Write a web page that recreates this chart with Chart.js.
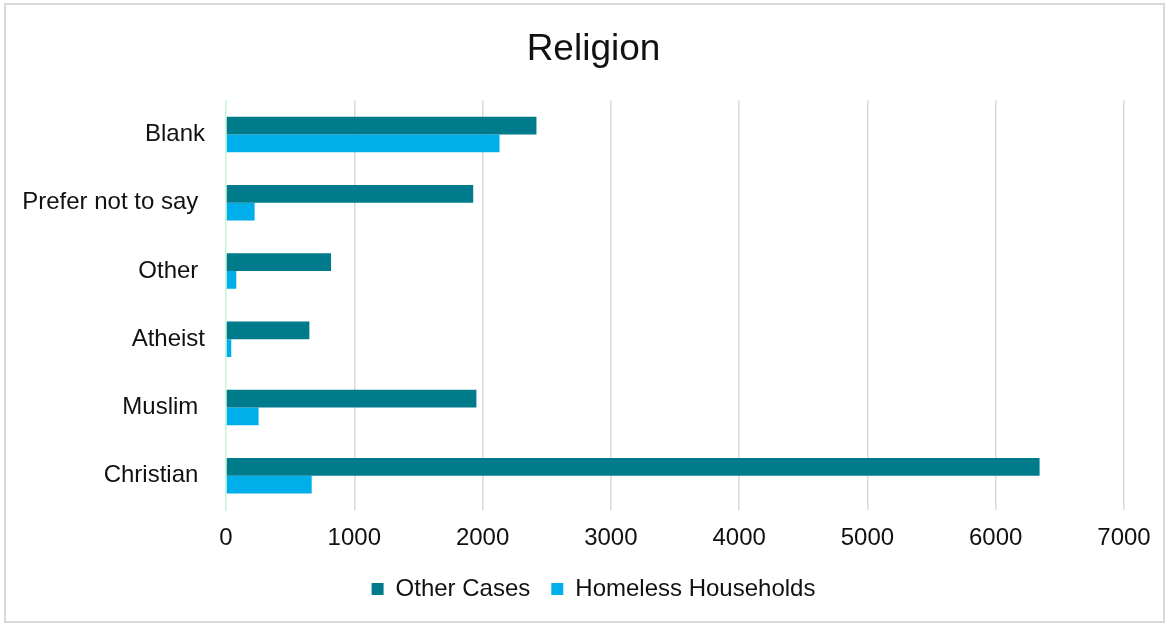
<!DOCTYPE html>
<html>
<head>
<meta charset="utf-8">
<title>Religion</title>
<script src="https://cdn.jsdelivr.net/npm/chart.js@4/dist/chart.umd.min.js"></script>
<style>
    html, body { margin: 0; padding: 0; background: #fff; }
    #wrap { position: relative; width: 1169px; height: 627px; }
    #frame {
        position: absolute; left: 4px; top: 3px; width: 1157px; height: 616px;
        border: 2px solid #d9d9d9; pointer-events: none;
    }
    #religionChart { position: absolute; left: 0; top: 0; }
</style>
</head>
<body>
<div id="wrap">
    <canvas id="religionChart" width="1169" height="627"></canvas>
    <div id="frame"></div>
</div>
<script>
// --- Data ---
const categories = ['Blank', 'Prefer not to say ', 'Other ', 'Atheist', 'Muslim ', 'Christian '];
const otherCases = [2420, 1927, 819, 650, 1952, 6342];
const homelessHouseholds = [2132, 223, 80, 41, 254, 668];
const xTicks = [0, 1000, 2000, 3000, 4000, 5000, 6000, 7000];

const FONT = "'Liberation Sans', Arial, sans-serif";
const TEXT_COLOR = '#111';

// --- Chart ---
const ctx = document.getElementById('religionChart').getContext('2d');
const religionChart = new Chart(ctx, {
    type: 'bar',
    data: {
        labels: categories,
        datasets: [
            { label: 'Other Cases', data: otherCases, backgroundColor: '#007b8c', borderWidth: 0 },
            { label: 'Homeless Households', data: homelessHouseholds, backgroundColor: '#00aeea', borderWidth: 0 }
        ]
    },
    options: {
        indexAxis: 'y',
        responsive: false,
        animation: false,
        categoryPercentage: 0.52,
        barPercentage: 1,
        layout: { padding: { left: 18, right: 0, top: 0, bottom: 16 } },
        scales: {
            x: {
                min: xTicks[0],
                max: xTicks[xTicks.length - 1],
                afterBuildTicks: scale => { scale.ticks = xTicks.map(v => ({ value: v })); },
                afterFit: scale => { scale.height = 46; },
                grid: {
                    color: c => (c.index === 0 ? 'rgba(0,0,0,0)' : '#d9d9d9'),
                    lineWidth: 1.5,
                    drawTicks: false
                },
                border: { display: false },
                ticks: {
                    color: TEXT_COLOR,
                    font: { family: FONT, size: 24 },
                    padding: 14,
                    callback: value => String(value)
                }
            },
            y: {
                afterFit: scale => { scale.width = 208; },
                grid: { display: false, drawTicks: false },
                border: { display: true, color: '#c8f5d6', width: 1.5 },
                ticks: { color: TEXT_COLOR, font: { family: FONT, size: 24 }, padding: 21 }
            },
            // empty right axis: reserves space so title/legend stay centred like the original
            yRight: {
                type: 'category',
                position: 'right',
                afterFit: scale => { scale.width = 45; },
                grid: { display: false, drawTicks: false },
                border: { display: false },
                ticks: { display: false }
            }
        },
        plugins: {
            title: {
                display: true,
                text: 'Religion',
                color: TEXT_COLOR,
                font: { family: FONT, size: 37, weight: 'normal' },
                padding: { top: 28, bottom: 28 }
            },
            legend: {
                position: 'bottom',
                labels: {
                    color: TEXT_COLOR,
                    font: { family: FONT, size: 24 },
                    boxWidth: 12,
                    boxHeight: 12,
                    padding: 21
                }
            },
            tooltip: { enabled: false }
        }
    }
});
</script>
</body>
</html>
